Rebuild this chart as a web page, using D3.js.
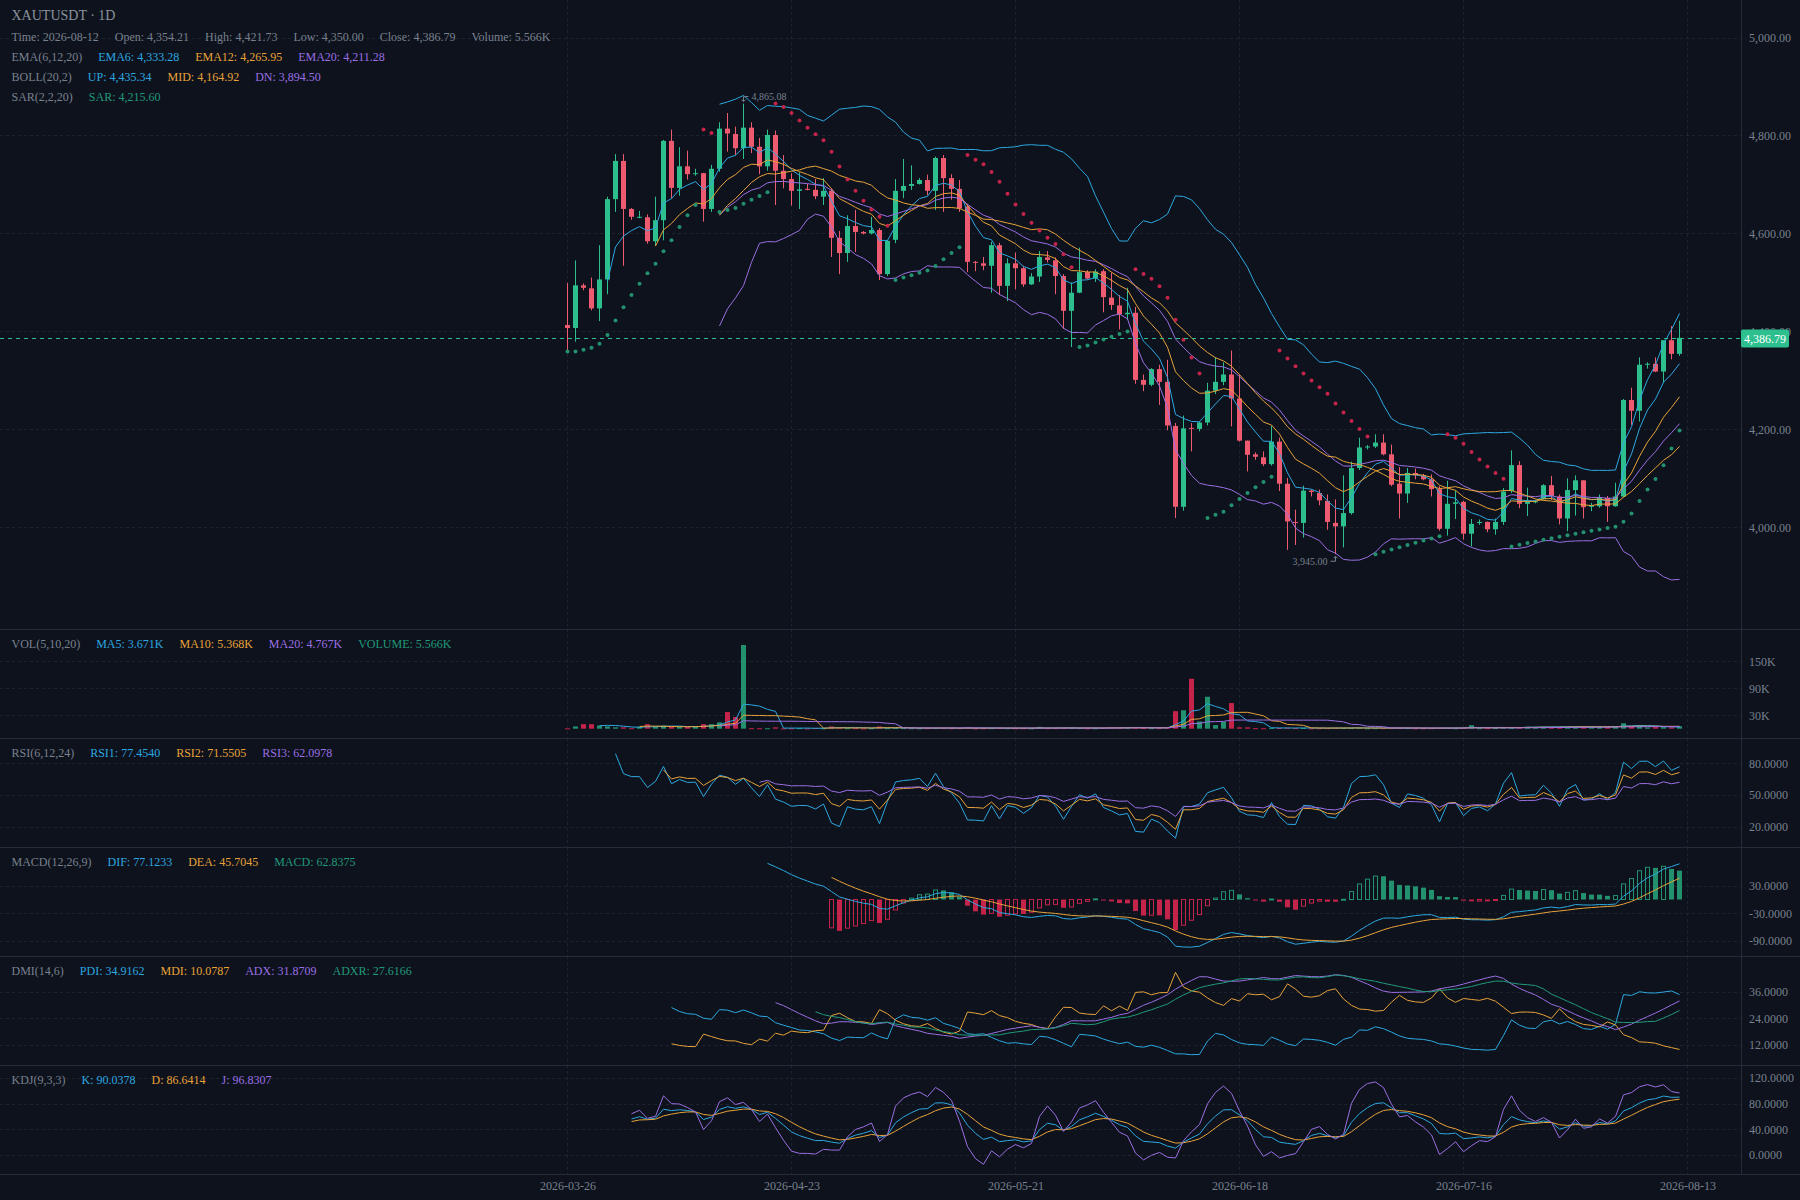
<!DOCTYPE html>
<html>
<head>
<meta charset="utf-8">
<script src="https://cdn.jsdelivr.net/npm/d3@7"></script>
<style>
  body { margin: 0; background: #0d121c; }
  svg text { font-family: "Liberation Serif", "DejaVu Serif", serif; }
</style>
</head>
<body>
<script>
// ---- data ----
var firstDay = "2026-03-26";
var open = [4413,4407,4494,4488,4447,4506,4670,4748,4650,4632,4633,4584,4627,4789,4693,4737,4721,4723,4650,4732,
  4814,4803,4774,4816,4777,4737,4801,4728,4711,4687,4691,4689,4675,4687,4591,4560,4615,4603,4600,4607,
  4517,4587,4687,4697,4701,4709,4687,4754,4713,4691,4655,4542,4539,4534,4576,4493,4539,4529,4496,4512,
  4551,4545,4513,4442,4479,4521,4508,4523,4469,4453,4435,4438,4301,4291,4323,4297,4207,4042,4203,4201,
  4214,4279,4297,4312,4263,4177,4149,4143,4129,4175,4089,4011,4009,4075,4070,4054,4009,4002,4029,4121,
  4163,4165,4173,4149,4089,4069,4111,4105,4098,4078,3997,4048,4052,3987,4009,4011,3996,4011,4074,4127,
  4048,4052,4058,4086,4063,4018,4076,4096,4042,4043,4060,4043,4063,4260,4238,4332,4334,4318,4382,4354.21];
var high = [4499,4545,4498,4510,4576,4675,4762,4762,4652,4646,4639,4675,4791,4812,4776,4769,4732,4724,4740,4827,
  4846,4818,4865.08,4827,4795,4812,4810,4760,4723,4725,4701,4711,4713,4691,4605,4637,4648,4605,4634,4611,
  4587,4711,4752,4739,4713,4720,4757,4760,4721,4709,4660,4544,4552,4583,4581,4549,4561,4534,4519,4564,
  4564,4551,4517,4500,4571,4525,4527,4527,4520,4474,4489,4450,4312,4325,4332,4342,4213,4228,4213,4216,
  4295,4347,4337,4361,4311,4177,4153,4155,4207,4183,4101,4036,4085,4077,4077,4067,4057,4106,4134,4183,
  4168,4190,4190,4169,4123,4121,4120,4109,4108,4084,4095,4075,4054,4017,4016,4012,4018,4080,4157,4135,
  4081,4056,4088,4105,4067,4100,4106,4096,4050,4067,4064,4091,4262,4285,4347,4337,4347,4382,4411,4421.73];
var low = [4359,4379,4484,4443,4421,4476,4644,4534,4628,4631,4579,4575,4586,4672,4677,4710,4718,4624,4644,4726,
  4767,4760,4752,4764,4721,4728,4658,4692,4657,4650,4688,4670,4658,4552,4517,4542,4562,4598,4598,4505,
  4513,4580,4672,4689,4700,4678,4648,4644,4669,4644,4521,4523,4525,4479,4474,4462,4486,4491,4495,4501,
  4541,4476,4405,4368,4478,4506,4501,4439,4444,4404,4424,4293,4278,4288,4250,4198,4019,4034,4155,4196,
  4208,4272,4290,4206,4175,4114,4138,4125,4126,4074,3954,3964,3979,4063,4045,3995,3945,3959,4026,4117,
  4159,4162,4147,4084,4018,4050,4098,4096,4063,3993,3983,4017,3975,3961,4005,3990,3985,4005,4070,4039,
  4023,4049,4057,4056,4006,3992,4024,4018,4033,4040,4011,4042,4061,4209,4216,4324,4317,4295,4343,4350.00];
var close = [4407,4494,4489,4447,4506,4670,4748,4650,4634,4634,4584,4627,4789,4693,4737,4721,4723,4650,4732,4814,
  4804,4774,4816,4777,4737,4801,4728,4711,4687,4690,4689,4676,4687,4591,4560,4615,4603,4600,4607,4517,
  4585,4687,4697,4701,4709,4687,4754,4713,4691,4651,4542,4540,4534,4576,4493,4539,4529,4496,4512,4552,
  4546,4513,4442,4479,4521,4508,4522,4470,4454,4435,4438,4301,4291,4323,4297,4208,4042,4202,4201,4214,
  4279,4297,4312,4263,4177,4148,4144,4129,4175,4089,4012,4009,4075,4072,4055,4011,4002,4029,4121,4163,
  4165,4173,4149,4087,4069,4111,4106,4098,4078,3997,4048,4051,3987,4007,4011,3996,4011,4073,4127,4048,
  4052,4053,4086,4064,4018,4076,4096,4041,4045,4061,4043,4063,4260,4238,4332,4334,4318,4382,4354.21,4386.79];
// volume in thousands
var volume = [0.8,5,10,10,7,5,3,3,1,4,10,4,7,4,4,4,4,10,10,14,
  37,26,186,1,1,1,3,0.6,0.8,1.2,0.7,1.5,0.9,5,3,1.1,1.3,0.5,0.9,5,
  1.2,1.8,1.4,1.0,0.8,1.1,1.6,1.3,1.0,1.2,3,0.8,0.9,1.2,1.5,1.1,0.9,1.0,0.8,4,
  1.1,1.3,1.9,1.6,1.4,0.9,1.0,1.5,3,3,3,3,1.6,1.2,1.4,2.2,39,41,111,16,
  71,8,15,57,3,3,1.2,1.0,1.8,1.5,2.2,1.3,1.6,0.9,1.1,1.4,2.0,1.7,1.9,2.1,
  0.8,1.2,1.3,1.8,1.5,1.4,0.9,0.8,1.2,2.0,1.7,1.1,1.9,7.7,1.0,1.3,1.4,2.6,3.2,3.0,
  4.5,3.8,4.2,4.6,4.0,4.4,4.1,4.3,3.6,4.16,4.3,5,12,6,8,2.8,3.4,3.5,3.1,5.566];

var dateTicks = ["2026-03-26","2026-04-23","2026-05-21","2026-06-18","2026-07-16","2026-08-13"];
var priceTicks = [4000, 4200, 4400, 4600, 4800, 5000];
var volTicks = [30, 90, 150];
var rsiTicks = [20, 50, 80];
var macdTicks = [-90, -30, 30];
var dmiTicks = [12, 24, 36];
var kdjTicks = [0, 40, 80, 120];

var titleText = "XAUTUSDT \u00b7 1D";
var infoRow = ["Time: 2026-08-12", "Open: 4,354.21", "High: 4,421.73", "Low: 4,350.00", "Close: 4,386.79", "Volume: 5.566K"];
var emaLegend = ["EMA(6,12,20)", "EMA6: 4,333.28", "EMA12: 4,265.95", "EMA20: 4,211.28"];
var bollLegend = ["BOLL(20,2)", "UP: 4,435.34", "MID: 4,164.92", "DN: 3,894.50"];
var sarLegend = ["SAR(2,2,20)", "SAR: 4,215.60"];
var volLegend = ["VOL(5,10,20)", "MA5: 3.671K", "MA10: 5.368K", "MA20: 4.767K", "VOLUME: 5.566K"];
var rsiLegend = ["RSI(6,12,24)", "RSI1: 77.4540", "RSI2: 71.5505", "RSI3: 62.0978"];
var macdLegend = ["MACD(12,26,9)", "DIF: 77.1233", "DEA: 45.7045", "MACD: 62.8375"];
var dmiLegend = ["DMI(14,6)", "PDI: 34.9162", "MDI: 10.0787", "ADX: 31.8709", "ADXR: 27.6166"];
var kdjLegend = ["KDJ(9,3,3)", "K: 90.0378", "D: 86.6414", "J: 96.8307"];

// ---- colours ----
var BG = "#0d121c", GRID = "#1d2430", SEP = "#252c38", TXT = "#79818f";
var UP = "#2dc08e", DOWN = "#ee5a70", UP2 = "#23906e", DOWN2 = "#c4234a";
var BLUE = "#2ea8e0", ORANGE = "#e8a23a", PURPLE = "#9b6fe3", GREEN = "#21997a";

// ---- indicators, computed from the candles ----
var n = close.length;
function ema(p) {
  var out = [], sum = 0, e;
  close.forEach(function(c, i) {
    sum += c;
    if (i >= p - 1) { e = i > p - 1 ? (2 * c + (p - 1) * e) / (p + 1) : sum / p; out.push(e); }
    else out.push(null);
  });
  return out;
}
var ema6 = ema(6), ema12 = ema(12), ema20 = ema(20), ema26 = ema(26);

var bollUp = [], bollMid = [], bollDn = [];
close.forEach(function(c, i) {
  if (i < 19) { bollUp.push(null); bollMid.push(null); bollDn.push(null); return; }
  var win = close.slice(i - 19, i + 1), m = d3.mean(win);
  var md = Math.sqrt(d3.mean(win, function(v) { return (v - m) * (v - m); }));
  bollMid.push(m); bollUp.push(m + 2 * md); bollDn.push(m - 2 * md);
});

var sar = [];
(function() {
  var af = 0.02, ep = -100, rising = false, s = 0;
  for (var i = 0; i < n; i++) {
    var prev = s, h = high[i], l = low[i];
    if (rising) {
      if (ep === -100 || ep < h) { ep = h; af = Math.min(af + 0.02, 0.2); }
      s = prev + af * (ep - prev);
      var lowMin = Math.min(low[Math.max(1, i) - 1], l);
      if (s > l) { s = ep; af = 0.02; ep = -100; rising = !rising; }
      else if (s > lowMin) s = lowMin;
    } else {
      if (ep === -100 || ep > l) { ep = l; af = Math.min(af + 0.02, 0.2); }
      s = prev + af * (ep - prev);
      var highMax = Math.max(high[Math.max(1, i) - 1], h);
      if (s < h) { s = ep; af = 0; ep = -100; rising = !rising; }
      else if (s < highMax) s = highMax;
    }
    sar.push(s);
  }
})();

function volMa(p) {
  return volume.map(function(v, i) { return i >= p - 1 ? d3.mean(volume.slice(i - p + 1, i + 1)) : null; });
}
var ma5 = volMa(5), ma10 = volMa(10), ma20 = volMa(20);

// Wilder-smoothed RSI
function rsi(p) {
  var out = [null], ag = 0, al = 0;
  for (var i = 1; i < n; i++) {
    var d = close[i] - close[i - 1], g = Math.max(d, 0), l = Math.max(-d, 0);
    if (i <= p) {
      ag += g; al += l;
      if (i < p) { out.push(null); continue; }
      ag /= p; al /= p;
    } else {
      ag = (ag * (p - 1) + g) / p; al = (al * (p - 1) + l) / p;
    }
    out.push(al === 0 ? 100 : 100 - 100 / (1 + ag / al));
  }
  return out;
}
var rsi1 = rsi(6), rsi2 = rsi(12), rsi3 = rsi(24);

var dif = [], dea = [], macd = [];
(function() {
  var sum = 0, d = 0;
  for (var i = 0; i < n; i++) {
    if (i >= 25) {
      var v = ema12[i] - ema26[i];
      dif.push(v); sum += v;
      if (i >= 33) { d = i > 33 ? (v * 2 + d * 8) / 10 : sum / 9; dea.push(d); macd.push((v - d) * 2); }
      else { dea.push(null); macd.push(null); }
    } else { dif.push(null); dea.push(null); macd.push(null); }
  }
})();

var pdi = [], mdi = [], adx = [], adxr = [];
(function() {
  var trSum = 0, hSum = 0, lSum = 0, mtr = 0, dmp = 0, dmm = 0, dxSum = 0, a = 0;
  for (var i = 0; i < n; i++) {
    var pi = Math.max(0, i - 1), pc = close[pi];
    var tr = Math.max(high[i] - low[i], Math.abs(high[i] - pc), Math.abs(pc - low[i]));
    var hhy = high[i] - high[pi], lyl = low[pi] - low[i];
    var hh = (hhy > 0 && hhy > lyl) ? hhy : 0, ll = (lyl > 0 && lyl > hhy) ? lyl : 0;
    trSum += tr; hSum += hh; lSum += ll;
    pdi.push(null); mdi.push(null); adx.push(null); adxr.push(null);
    if (i >= 13) {
      if (i > 13) { mtr = mtr - mtr / 14 + tr; dmp = dmp - dmp / 14 + hh; dmm = dmm - dmm / 14 + ll; }
      else { mtr = trSum; dmp = hSum; dmm = lSum; }
      var p = mtr ? dmp * 100 / mtr : 0, m = mtr ? dmm * 100 / mtr : 0;
      var dx = (p + m) ? Math.abs(m - p) / (p + m) * 100 : 0;
      dxSum += dx;
      pdi[i] = p; mdi[i] = m;
      if (i >= 26) {
        a = i > 26 ? (a * 13 + dx) / 14 : dxSum / 14;
        adx[i] = a;
        if (i >= 31) adxr[i] = (adx[i - 5] + a) / 2;
      }
    }
  }
})();

var kLine = [], dLine = [], jLine = [];
(function() {
  var pk = 50, pd = 50;
  for (var i = 0; i < n; i++) {
    if (i < 8) { kLine.push(null); dLine.push(null); jLine.push(null); continue; }
    var hn = d3.max(high.slice(i - 8, i + 1)), ln = d3.min(low.slice(i - 8, i + 1));
    var rsv = (close[i] - ln) / ((hn - ln) || 1) * 100;
    var k = (2 * pk + rsv) / 3, d = (2 * pd + k) / 3;
    kLine.push(k); dLine.push(d); jLine.push(3 * k - 2 * d);
    pk = k; pd = d;
  }
})();

// ---- layout ----
var W = 1800, H = 1200, axisX = 1741;
var parse = d3.utcParse("%Y-%m-%d");
var day0 = parse(firstDay);
var dates = d3.range(n).map(function(i) { return d3.utcDay.offset(day0, i); });
var x = d3.scaleUtc().domain([day0, d3.utcDay.offset(day0, 140)]).range([567.5, 567.5 + 140 * 8]);
var cx = function(i) { return x(dates[i]); };
var fmt4 = function(v) { return d3.format(".4f")(v).replace("\u2212", "-"); };

var panes = [
  { top: 0,    h: 629, y: d3.scaleLinear().domain([3792.4, 5076.6]).range([629, 0]), ticks: priceTicks, fmt: d3.format(",.2f") },
  { top: 629,  h: 109, y: d3.scaleLinear().domain([-20.7, 221.6]).range([738, 629]), ticks: volTicks, fmt: function(v) { return v + "K"; } },
  { top: 738,  h: 109, y: d3.scaleLinear().domain([0.6, 104.1]).range([847, 738]), ticks: rsiTicks, fmt: fmt4 },
  { top: 847,  h: 109, y: d3.scaleLinear().domain([-122.6, 114]).range([956, 847]), ticks: macdTicks, fmt: fmt4 },
  { top: 956,  h: 109, y: d3.scaleLinear().domain([2.8, 52.3]).range([1065, 956]), ticks: dmiTicks, fmt: fmt4 },
  { top: 1065, h: 109, y: d3.scaleLinear().domain([-29.8, 140.3]).range([1174, 1065]), ticks: kdjTicks, fmt: fmt4 }
];

var svg = d3.select("body").append("svg").attr("width", W).attr("height", H);
svg.append("rect").attr("width", W).attr("height", H).attr("fill", BG);
var defs = svg.append("defs");

panes.forEach(function(p, k) {
  defs.append("clipPath").attr("id", "clip" + k)
    .append("rect").attr("x", 0).attr("y", p.top).attr("width", axisX).attr("height", p.h);
  var g = svg.append("g");
  // grid
  g.selectAll(".hg").data(p.ticks).enter().append("line")
    .attr("x1", 0).attr("x2", axisX)
    .attr("y1", function(d) { return Math.round(p.y(d)) + 0.5; })
    .attr("y2", function(d) { return Math.round(p.y(d)) + 0.5; })
    .attr("stroke", GRID).attr("stroke-dasharray", "3,3");
  g.selectAll(".vg").data(dateTicks).enter().append("line")
    .attr("x1", function(d) { return x(parse(d)); }).attr("x2", function(d) { return x(parse(d)); })
    .attr("y1", p.top).attr("y2", p.top + p.h)
    .attr("stroke", GRID).attr("stroke-dasharray", "3,3");
  // right axis labels
  var ax = svg.append("g").attr("transform", "translate(" + (axisX + 4) + ",0)")
    .call(d3.axisRight(p.y).tickValues(p.ticks).tickFormat(p.fmt).tickSize(0).tickPadding(4));
  ax.select(".domain").remove();
  ax.selectAll("text").attr("fill", TXT).attr("font-size", 12)
    .style("font-family", "'Liberation Serif', serif");
  p.g = svg.append("g").attr("clip-path", "url(#clip" + k + ")");
});

function drawLine(p, values, color) {
  var line = d3.line()
    .defined(function(d) { return d != null; })
    .x(function(d, i) { return cx(i); })
    .y(function(d) { return p.y(d); });
  p.g.append("path").datum(values).attr("d", line)
    .attr("fill", "none").attr("stroke", color).attr("stroke-width", 1);
}

// ---- main pane: candles ----
var main = panes[0], y = main.y;
var idx = d3.range(n);
var candle = main.g.selectAll(".c").data(idx).enter().append("g");
candle.append("line")
  .attr("x1", function(i) { return cx(i); }).attr("x2", function(i) { return cx(i); })
  .attr("y1", function(i) { return y(high[i]); }).attr("y2", function(i) { return y(low[i]); })
  .attr("stroke", function(i) { return close[i] >= open[i] ? UP : DOWN; });
candle.append("rect")
  .attr("x", function(i) { return cx(i) - 2.5; }).attr("width", 5)
  .attr("y", function(i) { return y(Math.max(open[i], close[i])); })
  .attr("height", function(i) { return Math.max(1, Math.abs(y(open[i]) - y(close[i]))); })
  .attr("fill", function(i) { return close[i] >= open[i] ? UP : DOWN; });

drawLine(main, ema6, BLUE);
drawLine(main, ema12, ORANGE);
drawLine(main, ema20, PURPLE);
drawLine(main, bollUp, BLUE);
drawLine(main, bollMid, ORANGE);
drawLine(main, bollDn, PURPLE);

main.g.selectAll(".sar").data(idx).enter().append("circle")
  .attr("cx", function(i) { return cx(i); }).attr("cy", function(i) { return y(sar[i]); })
  .attr("r", 2)
  .attr("fill", function(i) { return sar[i] < (high[i] + low[i]) / 2 ? UP2 : DOWN2; });

// high / low marks
function mark(i, price, dir) {
  var px = cx(i), py = y(price) + 2 * dir, ly = py + 5 * dir;
  var right = px < axisX / 2;
  var ex = right ? px + 5 : px - 5;
  main.g.append("path")
    .attr("d", "M" + (px - 2) + "," + (py + 2 * dir) + "L" + px + "," + py + "L" + (px + 2) + "," + (py + 2 * dir) +
               "M" + px + "," + py + "L" + px + "," + ly + "L" + ex + "," + ly)
    .attr("fill", "none").attr("stroke", TXT);
  main.g.append("text").attr("x", right ? ex + 3 : ex - 3).attr("y", ly).attr("dy", "0.35em")
    .attr("text-anchor", right ? "start" : "end").attr("fill", TXT).attr("font-size", 10)
    .text(d3.format(",.2f")(price));
}
var hiI = d3.maxIndex(high), loI = d3.minIndex(low);
mark(hiI, high[hiI], -1);
mark(loI, low[loI], 1);

// ---- volume ----
var vp = panes[1];
vp.g.selectAll(".v").data(idx).enter().append("rect")
  .attr("x", function(i) { return cx(i) - 2.5; }).attr("width", 5)
  .attr("y", function(i) { return vp.y(volume[i]); })
  .attr("height", function(i) { return Math.max(1, vp.y(0) - vp.y(volume[i])); })
  .attr("fill", function(i) { return close[i] >= open[i] ? UP2 : DOWN2; });
drawLine(vp, ma5, BLUE);
drawLine(vp, ma10, ORANGE);
drawLine(vp, ma20, PURPLE);

// ---- RSI ----
drawLine(panes[2], rsi1, BLUE);
drawLine(panes[2], rsi2, ORANGE);
drawLine(panes[2], rsi3, PURPLE);

// ---- MACD ----
var mp = panes[3];
var mIdx = idx.filter(function(i) { return macd[i] != null; });
mp.g.selectAll(".m").data(mIdx).enter().append("rect")
  .each(function(i) {
    var v = macd[i], prev = i > 0 && macd[i - 1] != null ? macd[i - 1] : -Infinity;
    var col = v > 0 ? UP2 : DOWN2;
    var y0 = mp.y(0), y1 = mp.y(v);
    var hollow = prev < v;
    d3.select(this)
      .attr("x", cx(i) - (hollow ? 2 : 2.5)).attr("width", hollow ? 4 : 5)
      .attr("y", Math.min(y0, y1)).attr("height", Math.max(1, Math.abs(y1 - y0)))
      .attr("fill", hollow ? "none" : col).attr("stroke", hollow ? col : "none");
  });
drawLine(mp, dif, BLUE);
drawLine(mp, dea, ORANGE);

// ---- DMI ----
drawLine(panes[4], pdi, BLUE);
drawLine(panes[4], mdi, ORANGE);
drawLine(panes[4], adx, PURPLE);
drawLine(panes[4], adxr, GREEN);

// ---- KDJ ----
drawLine(panes[5], kLine, BLUE);
drawLine(panes[5], dLine, ORANGE);
drawLine(panes[5], jLine, PURPLE);

// ---- separators and axis line ----
panes.forEach(function(p) {
  if (p.top > 0) svg.append("line").attr("x1", 0).attr("x2", W).attr("y1", p.top + 0.5).attr("y2", p.top + 0.5).attr("stroke", SEP);
});
svg.append("line").attr("x1", 0).attr("x2", W).attr("y1", 1174.5).attr("y2", 1174.5).attr("stroke", SEP);
svg.append("line").attr("x1", axisX + 0.5).attr("x2", axisX + 0.5).attr("y1", 0).attr("y2", 1174).attr("stroke", SEP);

// ---- time axis ----
var xa = svg.append("g").attr("transform", "translate(0,1175)")
  .call(d3.axisBottom(x).tickValues(dateTicks.map(parse)).tickFormat(d3.utcFormat("%Y-%m-%d")).tickSize(0).tickPadding(6));
xa.select(".domain").remove();
xa.selectAll("text").attr("fill", TXT).attr("font-size", 12).style("font-family", "'Liberation Serif', serif");

// ---- last price line and tag ----
var lastY = Math.round(y(close[n - 1])) + 0.5;
svg.append("line").attr("x1", 0).attr("x2", axisX).attr("y1", lastY).attr("y2", lastY)
  .attr("stroke", UP).attr("stroke-dasharray", "4,4");
svg.append("rect").attr("x", axisX).attr("y", lastY - 9).attr("width", 48).attr("height", 18).attr("rx", 2).attr("fill", UP);
svg.append("text").attr("x", axisX + 24).attr("y", lastY).attr("dy", "0.35em").attr("text-anchor", "middle")
  .attr("fill", "#ffffff").attr("font-size", 12).text(d3.format(",.2f")(close[n - 1]));

// ---- legends ----
function legend(yPos, texts, colors) {
  var xp = 11.5;
  texts.forEach(function(t, k) {
    var el = svg.append("text").attr("x", xp).attr("y", yPos).attr("dy", "0.35em")
      .attr("fill", colors[k]).attr("font-size", 12).text(t);
    xp += el.node().getComputedTextLength() + 16;
  });
}
svg.append("text").attr("x", 11.5).attr("y", 15).attr("dy", "0.35em").attr("fill", "#8b929e").attr("font-size", 14).text(titleText);
legend(36.5, infoRow, infoRow.map(function() { return TXT; }));
legend(56.5, emaLegend, [TXT, BLUE, ORANGE, PURPLE]);
legend(76.5, bollLegend, [TXT, BLUE, ORANGE, PURPLE]);
legend(96.5, sarLegend, [TXT, GREEN]);
legend(644, volLegend, [TXT, BLUE, ORANGE, PURPLE, GREEN]);
legend(753, rsiLegend, [TXT, BLUE, ORANGE, PURPLE]);
legend(862, macdLegend, [TXT, BLUE, ORANGE, GREEN]);
legend(971, dmiLegend, [TXT, BLUE, ORANGE, PURPLE, GREEN]);
legend(1080, kdjLegend, [TXT, BLUE, ORANGE, PURPLE]);
</script>
</body>
</html>
